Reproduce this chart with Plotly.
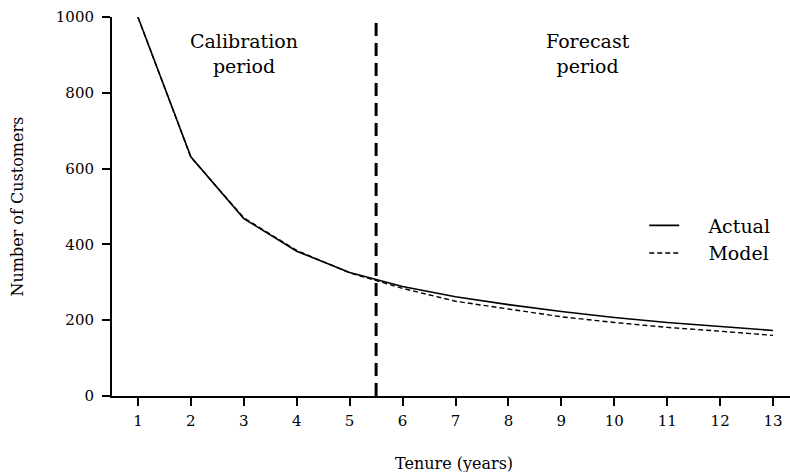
import plotly.graph_objects as go

years = list(range(1, 14))
actual = [1000, 631, 468, 382, 326, 289, 262, 241, 223, 207, 194, 183, 173]
model = [1000, 630, 470, 384, 325, 284, 250, 229, 209, 194, 181, 171, 160]
split_year = 5.5
y_ticks = [0, 200, 400, 600, 800, 1000]
x_ticks = years

FONT = "DejaVu Serif"
PAD = "\u00a0" * 4

fig = go.Figure()
fig.add_trace(go.Scatter(x=years, y=actual, mode="lines", name=PAD + "Actual",
                         line=dict(color="black", width=1.6)))
fig.add_trace(go.Scatter(x=years, y=model, mode="lines", name=PAD + "Model",
                         line=dict(color="black", width=1.4, dash="5px,3px")))
fig.add_trace(go.Scatter(x=[split_year, split_year], y=[0, 1000], mode="lines",
                         showlegend=False, hoverinfo="skip",
                         line=dict(color="black", width=3, dash="13px,7px")))

fig.add_annotation(x=3.0, y=903, text="Calibration<br>period", showarrow=False,
                   font=dict(family=FONT, size=19, color="black"))
fig.add_annotation(x=9.5, y=903, text="Forecast<br>period", showarrow=False,
                   font=dict(family=FONT, size=19, color="black"))
fig.add_annotation(xref="paper", yref="paper", x=-0.140, y=0.5, textangle=-90,
                   xanchor="center", yanchor="middle",
                   text="Number of Customers", showarrow=False,
                   font=dict(family=FONT, size=16, color="black"))
fig.add_annotation(xref="paper", yref="paper", x=0.505, y=-0.177,
                   xanchor="center", yanchor="middle",
                   text="Tenure (years)", showarrow=False,
                   font=dict(family=FONT, size=16, color="black"))

fig.update_layout(
    width=790, height=472,
    margin=dict(l=112, r=0, t=17, b=76),
    paper_bgcolor="white", plot_bgcolor="white",
    font=dict(family=FONT, size=16, color="black"),
    showlegend=True,
    legend=dict(x=0.785, y=0.50, xanchor="left", yanchor="top",
                bgcolor="rgba(0,0,0,0)", font=dict(family=FONT, size=19, color="black")),
)
fig.update_xaxes(range=[0.51, 13.32], tickvals=x_ticks, ticks="outside", ticklen=8,
                 tickwidth=2, tickcolor="black", showline=True, linecolor="black",
                 linewidth=2, showgrid=False, zeroline=False, ticklabelstandoff=2,
                 tickfont=dict(family=FONT, size=15, color="black"))
fig.update_yaxes(range=[0, 1000], tickvals=y_ticks, ticks="outside", ticklen=8,
                 tickwidth=2, tickcolor="black", showline=True, linecolor="black",
                 linewidth=2, showgrid=False, zeroline=False, ticklabelstandoff=5,
                 tickfont=dict(family=FONT, size=15, color="black"))

fig.write_html("out.html")
